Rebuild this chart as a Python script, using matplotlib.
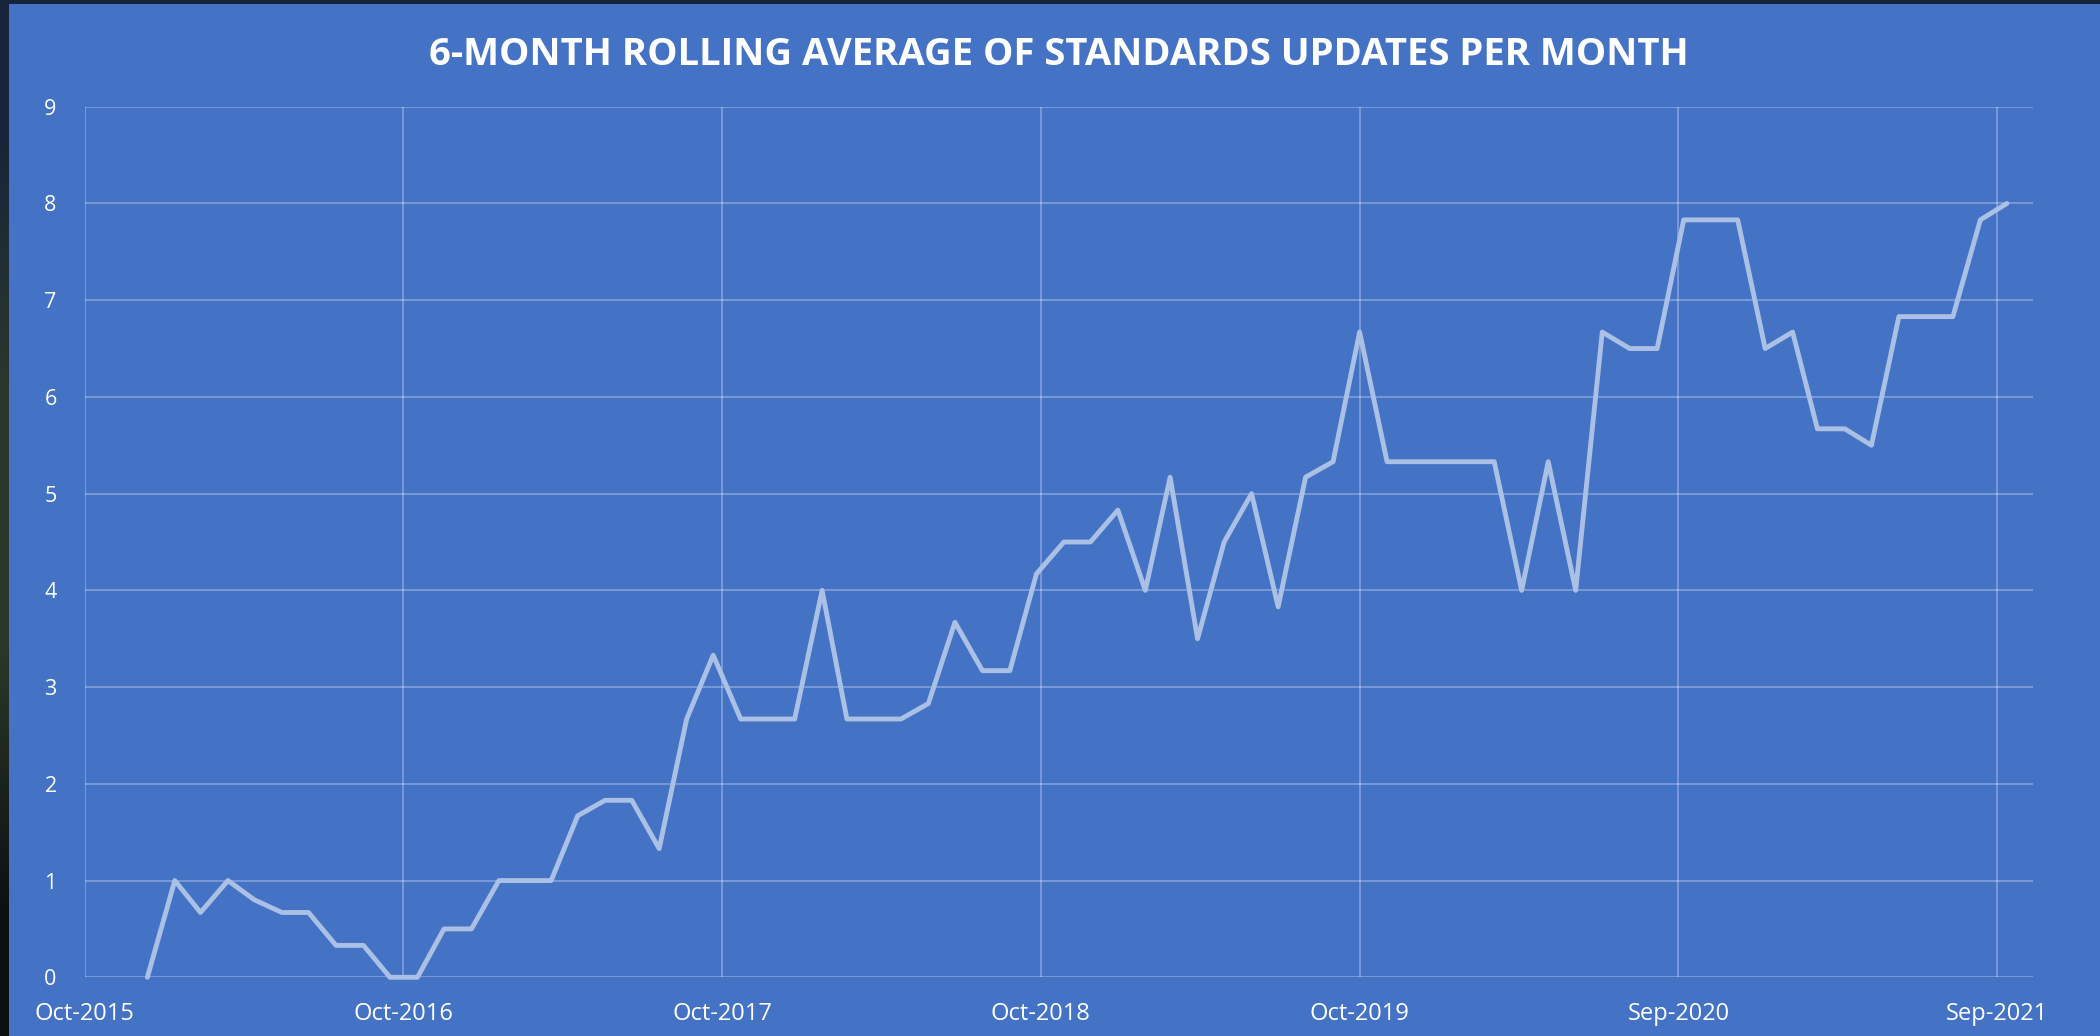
import matplotlib
matplotlib.use("Agg")
import matplotlib.pyplot as plt
from matplotlib.patches import Rectangle
import numpy as np
import pandas as pd

# monthly points, Jan-2016 .. Oct-2021
months = pd.date_range("2016-01-01", periods=70, freq="MS")
rolling_avg = [0, 1, 0.67, 1, 0.8, 0.67, 0.67, 0.33, 0.33, 0,
               0, 0.5, 0.5, 1, 1, 1, 1.67, 1.83, 1.83, 1.33,
               2.67, 3.33, 2.67, 2.67, 2.67, 4, 2.67, 2.67, 2.67, 2.83,
               3.67, 3.17, 3.17, 4.17, 4.5, 4.5, 4.83, 4, 5.17, 3.5,
               4.5, 5, 3.83, 5.17, 5.33, 6.67, 5.33, 5.33, 5.33, 5.33,
               5.33, 4, 5.33, 4, 6.67, 6.5, 6.5, 7.83, 7.83, 7.83,
               6.5, 6.67, 5.67, 5.67, 5.5, 6.83, 6.83, 6.83, 7.83, 8]

# excel-style date axis: major unit 360 days
tick_dates = pd.date_range("2015-10-22", periods=7, freq="360D")
tick_labels = ["Oct-2015", "Oct-2016", "Oct-2017", "Oct-2018", "Oct-2019", "Sep-2020", "Sep-2021"]
y_ticks = list(range(0, 10))

W, H = 2100, 1036
fig = plt.figure(figsize=(W / 100, H / 100), dpi=100)
fig.patch.set_facecolor("#16233a")

# blue panel behind everything
fig.patches.append(Rectangle((9 / W, 0), 1, (H - 4) / H, transform=fig.transFigure,
                             facecolor="#4472c4", edgecolor="none", zorder=-5))

# dark strip on the left with a slight gradient
strip = fig.add_axes([0, 0, 9 / W, 1])
grad = np.array([[0.09, 0.14, 0.23], [0.16, 0.22, 0.18], [0.17, 0.22, 0.16], [0.04, 0.07, 0.08]])
strip.imshow(grad[:, None, :], aspect="auto", interpolation="bilinear")
strip.axis("off")

left, right = 84.5, 2032.6
top, bottom = 106.7, 977.3
ax = fig.add_axes([left / W, (H - bottom) / H, (right - left) / W, (bottom - top) / H])
ax.set_facecolor("none")
ax.set_zorder(2)

ax.plot(months, rolling_avg, color="#abc0e5", lw=3.5, solid_joinstyle="round",
        solid_capstyle="round", clip_on=False, zorder=3)

ax.set_xlim(pd.Timestamp("2015-10-22"), pd.Timestamp("2021-10-30"))
ax.set_ylim(0, 9)
ax.set_xticks(tick_dates)
ax.set_xticklabels(tick_labels)
ax.set_yticks(y_ticks)

ax.grid(True, color="white", alpha=0.3, lw=1.3)
ax.set_axisbelow(True)
for s in ax.spines.values():
    s.set_visible(False)
ax.tick_params(length=0, colors="white", labelsize=15)
ax.tick_params(axis="x", pad=18, labelsize=17)
ax.tick_params(axis="y", pad=20, labelsize=15.5)
for lab in ax.get_xticklabels() + ax.get_yticklabels():
    lab.set_family("Open Sans")

fig.text((left + right) / 2 / W, 1 - 55 / H, "6-MONTH ROLLING AVERAGE OF STANDARDS UPDATES PER MONTH",
         ha="center", va="center", color="white", fontsize=27.5, fontweight="bold", family="Open Sans")

fig.savefig("out.png", dpi=100, facecolor=fig.get_facecolor())
